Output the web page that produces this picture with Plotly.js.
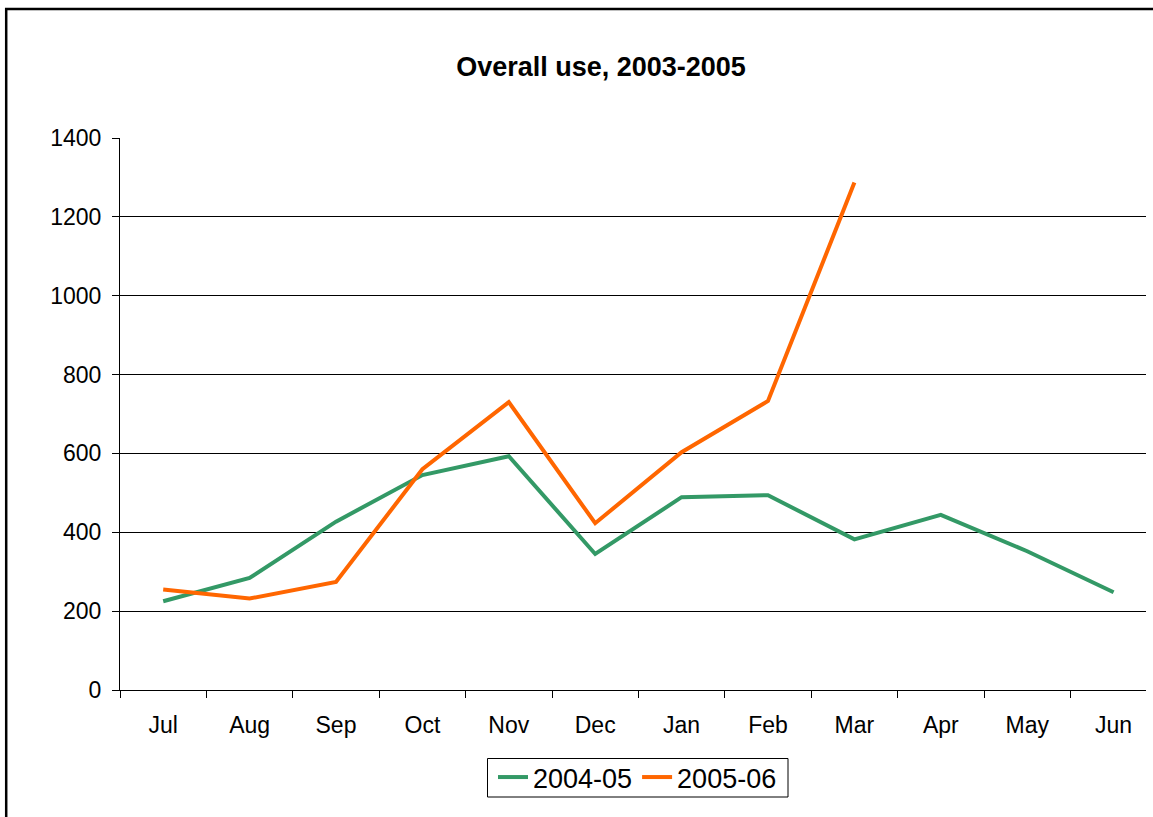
<!DOCTYPE html>
<html>
<head>
<meta charset="utf-8">
<script src="https://cdn.plot.ly/plotly-3.0.1.min.js"></script>
<style>
  html, body { margin: 0; padding: 0; background: #ffffff; }
  #chart { width: 1153px; height: 817px; }
</style>
</head>
<body>
<div id="chart"></div>
<script>
// Monthly usage, financial year running July to June
const months = ["Jul", "Aug", "Sep", "Oct", "Nov", "Dec", "Jan", "Feb", "Mar", "Apr", "May", "Jun"];
const use2004_05 = [225, 284, 427, 545, 593, 345, 489, 494, 382, 444, 352, 248];
const use2005_06 = [255, 232, 274, 560, 730, 423, 603, 733, 1287, null, null, null];
const seriesNames = ["2004-05", "2005-06"];
const yTicks = [0, 200, 400, 600, 800, 1000, 1200, 1400];

const FONT = "Liberation Sans, Arial, sans-serif";

// pixel helpers for placing the frame and legend box around the plot area
const PLOT_L = 120, PLOT_R = 1146, PLOT_T = 138, PLOT_B = 690;
const px2x = px => (px - PLOT_L) / (PLOT_R - PLOT_L);
const px2y = py => (PLOT_B - py) / (PLOT_B - PLOT_T);

const traces = [
  {
    x: months, y: use2004_05, name: seriesNames[0],
    type: "scatter", mode: "lines",
    line: { color: "#339966", width: 4 }
  },
  {
    x: months, y: use2005_06, name: seriesNames[1],
    type: "scatter", mode: "lines",
    line: { color: "#FF6600", width: 4 }
  }
];

const layout = {
  width: 1153,
  height: 817,
  margin: { l: PLOT_L, r: 1153 - PLOT_R, t: PLOT_T, b: 817 - PLOT_B, pad: 0 },
  paper_bgcolor: "#ffffff",
  plot_bgcolor: "#ffffff",
  font: { family: FONT, color: "#000000", size: 23 },
  title: {
    text: "<b>Overall use, 2003-2005</b>",
    font: { family: FONT, size: 27, color: "#000000" },
    xref: "container", x: 601 / 1153, xanchor: "center",
    yref: "container", y: 1 - 67 / 817, yanchor: "middle"
  },
  xaxis: {
    type: "category",
    range: [-0.5, 11.375],
    tickson: "boundaries",
    ticks: "outside", ticklen: 7, tickwidth: 1, tickcolor: "#000000",
    showline: true, linecolor: "#000000", linewidth: 1,
    showgrid: false, zeroline: false,
    tickfont: { family: FONT, size: 23, color: "#000000" },
    ticklabelstandoff: 14,
    fixedrange: true
  },
  yaxis: {
    range: [0, 1400],
    tickvals: yTicks,
    ticktext: yTicks.map(String),
    ticks: "outside", ticklen: 7, tickwidth: 1, tickcolor: "#000000",
    showline: true, linecolor: "#000000", linewidth: 1,
    showgrid: true, gridcolor: "#000000", gridwidth: 1,
    zeroline: false,
    tickfont: { family: FONT, size: 23, color: "#000000" },
    ticklabelstandoff: 6,
    fixedrange: true
  },
  showlegend: true,
  legend: {
    orientation: "h",
    xref: "paper", x: px2x(637.5), xanchor: "center",
    yref: "paper", y: px2y(777.5), yanchor: "middle",
    bgcolor: "rgba(0,0,0,0)",
    borderwidth: 0,
    font: { family: FONT, size: 27, color: "#000000" },
    itemwidth: 30,
    tracegroupgap: 0
  },
  shapes: [
    {
      // chart frame
      type: "rect", xref: "paper", yref: "paper",
      x0: px2x(6.2), x1: px2x(1170),
      y0: px2y(830), y1: px2y(9),
      line: { color: "#000000", width: 2.5 },
      fillcolor: "rgba(0,0,0,0)",
      layer: "below"
    },
    {
      // legend box
      type: "rect", xref: "paper", yref: "paper",
      x0: px2x(487.5), x1: px2x(788),
      y0: px2y(797), y1: px2y(758.5),
      line: { color: "#000000", width: 1 },
      fillcolor: "#ffffff",
      layer: "above"
    }
  ]
};

Plotly.newPlot("chart", traces, layout, { staticPlot: true, displayModeBar: false });
</script>
</body>
</html>
